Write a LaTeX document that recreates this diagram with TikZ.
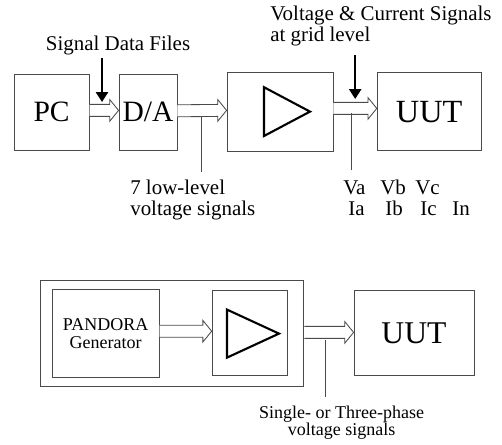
\documentclass[tikz,border=0pt]{standalone}
\usepackage{fontspec}
\setmainfont{Liberation Serif}
\usetikzlibrary{arrows.meta, calc}
\definecolor{boxgray}{HTML}{4A4A4A}

% wide open arrow between two anchors, optional vertical offset in cm
\newcommand{\hollowarrow}[3][0]{%
  \draw[harrow] ($(#2)+(0,#1+0.15)$) -- ($(#3)+(-0.22,#1+0.15)$)
    -- ($(#3)+(-0.22,#1+0.27)$) -- ($(#3)+(0,#1)$)
    -- ($(#3)+(-0.22,#1-0.27)$) -- ($(#3)+(-0.22,#1-0.15)$)
    -- ($(#2)+(0,#1-0.15)$);%
}

\begin{document}
\begin{tikzpicture}[
    box/.style={draw=boxgray, line width=0.6pt, inner sep=0pt},
    harrow/.style={draw=boxgray, line width=0.6pt, fill=white},
    drop/.style={-{Triangle[length=7pt, width=8.5pt]}, line width=1.6pt},
    tick/.style={draw=boxgray, line width=0.6pt},
    amptri/.style={line width=1.5pt, line join=miter},
    lbl/.style={font=\fontsize{14.9}{15}\selectfont, inner sep=0pt},
    small/.style={font=\fontsize{12.8}{12.5}\selectfont, inner sep=0pt},
]
    \useasboundingbox (0,0) rectangle (12.55,-11.1);

    % grid-level chain
    \node[box, minimum width=1.875cm, minimum height=1.9cm, font=\fontsize{21}{21}\selectfont] (pc) at (1.29,-2.8) {PC};
    \node[box, minimum width=1.45cm, minimum height=1.9cm, font=\fontsize{21}{21}\selectfont] (da) at (3.7,-2.8) {D/A};
    \node[box, minimum width=2.65cm, minimum height=1.975cm] (amp) at (7.0,-2.79) {};
    \node[box, minimum width=2.6cm, minimum height=1.95cm, font=\fontsize{23}{23}\selectfont] (uut) at (10.73,-2.79) {UUT};
    \draw[amptri] ($(amp)+(-0.4,0.61)$) -- ($(amp)+(0.75,0)$) -- ($(amp)+(-0.4,-0.61)$) -- cycle;

    \hollowarrow[0.04]{pc.east}{da.west}
    \hollowarrow[0.03]{da.east}{amp.west}
    \hollowarrow[0.08]{amp.east}{uut.west}

    \node[lbl, anchor=base] (sdf) at (2.95,-1.25) {Signal Data Files};
    \coordinate (sdftop) at (2.55,-1.45);
    \coordinate (sdftip) at (2.55,-2.55);
    \draw[drop] (sdftop) -- (sdftip);

    \node[lbl, align=left, anchor=north west] (vcs) at (6.75,-0.14) {Voltage \& Current Signals\\at grid level};
    \coordinate (vcstop) at (8.88,-1.375);
    \coordinate (vcstip) at (8.88,-2.475);
    \draw[drop] (vcstop) -- (vcstip);

    \node[lbl, align=left, anchor=north west] (lowlvl) at (3.25,-4.49) {7 low-level\\voltage signals};
    \coordinate (lowtop) at (5.03,-2.93);
    \coordinate (lowend) at (5.03,-4.3);
    \draw[tick] (lowtop) -- (lowend);

    \coordinate (gridtop) at (8.78,-2.83);
    \coordinate (gridend) at (8.78,-4.25);
    \draw[tick] (gridtop) -- (gridend);
    \foreach \t/\x in {Va/8.575, Vb/9.5, Vc/10.375}
        \node[lbl, anchor=base west, name=\t] at (\x,-4.85) {\t};
    \foreach \t/\x in {Ia/8.7, Ib/9.625, Ic/10.5, In/11.3}
        \node[lbl, anchor=base west, name=\t] at (\x,-5.38) {\t};

    % PANDORA chain
    \node[box, minimum width=6.575cm, minimum height=2.65cm] (gen) at (4.31,-8.33) {};
    \node[box, minimum width=2.675cm, minimum height=2.2cm, align=center, font=\fontsize{12.8}{12.8}\selectfont] (pandora) at (2.64,-8.33) {PANDORA\\Generator};
    \node[box, minimum width=1.875cm, minimum height=2.125cm] (amp2) at (6.24,-8.33) {};
    \node[box, minimum width=3.0cm, minimum height=2.125cm, font=\fontsize{22.5}{22.5}\selectfont] (uut2) at (10.35,-8.33) {UUT};
    \draw[amptri] ($(amp2)+(-0.565,0.59)$) -- ($(amp2)+(0.735,-0.01)$) -- ($(amp2)+(-0.565,-0.61)$) -- cycle;

    \hollowarrow[0.05]{pandora.east}{amp2.west}
    \hollowarrow[0.02]{gen.east}{uut2.west}

    \coordinate (phtop) at (8.13,-8.5);
    \coordinate (phend) at (8.13,-9.93);
    \draw[tick] (phtop) -- (phend);
    \node[small, align=center, anchor=north] (phase) at (8.54,-10.14) {Single- or Three-phase\\voltage signals};
\end{tikzpicture}
\end{document}
